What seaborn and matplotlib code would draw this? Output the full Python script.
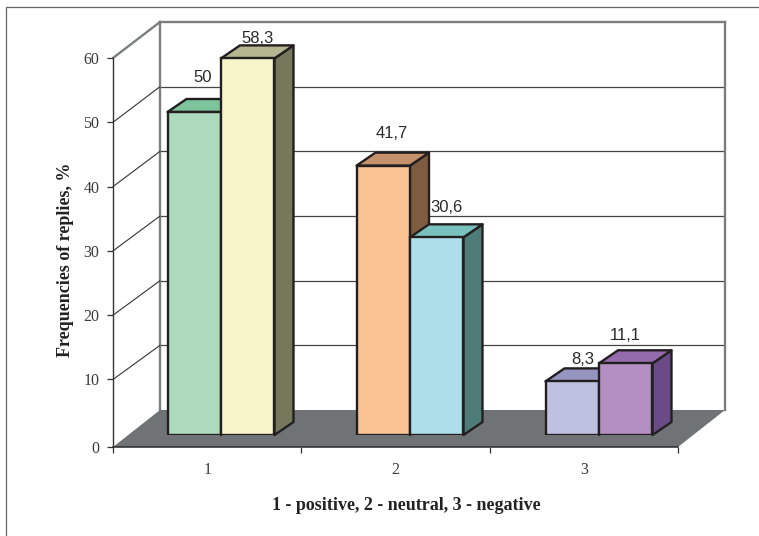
import matplotlib
matplotlib.use('Agg')
import matplotlib.pyplot as plt
import pandas as pd
import seaborn as sns
from matplotlib.lines import Line2D
from matplotlib.patches import Polygon
from matplotlib.transforms import Affine2D, IdentityTransform

# chart values
categories = ['1', '2', '3']
first_series = [50, 41.7, 8.3]
second_series = [58.3, 30.6, 11.1]
value_labels = [['50', '41,7', '8,3'], ['58,3', '30,6', '11,1']]
y_tick_labels = ['0', '10', '20', '30', '40', '50', '60']

# colours per bar: front, top, side
front_colors = [['#add9bc', '#fbc393', '#bec1e0'], ['#f8f5c8', '#addee9', '#b48fc1']]
top_colors = [['#7dc39c', '#c4916b', '#9595c0'], ['#b5b58f', '#78c1bc', '#946bac']]
side_colors = [['#5c8a6e', '#7f5c41', '#6f7096'], ['#76785c', '#4e7c78', '#6b4b87']]
# hand placed label offsets in pixels from the bar top centre
label_offsets = [[(8, 34), (8, 32), (10, 22)], [(10, 20), (10, 30), (0, 28)]]

W, H = 759, 536
DEPTH = (19, 13)
EDGE = '#231f20'
WALL = '#7b7e81'
TEXT = '#3a3a3a'


def add_plane(left, right, top, bottom, zorder):
    ax = fig.add_axes([left / W, 1 - bottom / H, (right - left) / W, (bottom - top) / H])
    ax.set_zorder(zorder)
    ax.patch.set_visible(False)
    return ax


def to_pixels(ax, x, y):
    return ax.transAxes.transform((x, y))


sns.set_theme(style='white')
plt.rcParams['font.family'] = ['Liberation Serif', 'DejaVu Serif']
fig = plt.figure(figsize=(W / 100, H / 100), dpi=100)

# page frame, open on the right and at the bottom
fig.add_artist(Line2D([6 / W, 6 / W, 1], [0, 1 - 7 / H, 1 - 7 / H], color='#666666', lw=0.9))

# back wall
back = add_plane(160, 725, 22, 410, 1)
back.set_xlim(0, 1)
back.set_ylim(0, 60)
back.set_xticks([])
back.set_yticks(range(10, 60, 10))
back.set_yticklabels([])
back.grid(axis='y', color='#444444', lw=0.9)
back.tick_params(length=0)
back.spines['bottom'].set_visible(False)
for name in ['left', 'top', 'right']:
    back.spines[name].set_color(WALL)
    back.spines[name].set_linewidth(1.7)

# front plane holds the axes, ticks and titles
front = add_plane(113, 678, 58, 447, 2.5)
front.set_xlim(-0.5, 2.5)
front.set_ylim(-0.5, 60)
front.set_yticks([-0.5, 10, 20, 30, 40, 50, 60])
front.set_yticklabels(y_tick_labels)
front.set_xticks([0, 1, 2])
front.set_xticklabels(categories)
front.set_xticks([-0.5, 0.5, 1.5, 2.5], minor=True)
front.tick_params(axis='y', left=True, length=4.3, width=0.9, color='#333333', labelcolor=TEXT, labelsize=11.5, pad=5.5)
front.tick_params(axis='x', which='major', length=0, labelcolor=TEXT, labelsize=11.5, pad=11)
front.tick_params(axis='x', which='minor', bottom=True, length=4.3, width=0.9, color='#333333')
for name in ['top', 'right']:
    front.spines[name].set_visible(False)
front.spines['left'].set_color('#333333')
front.spines['left'].set_linewidth(1.0)
front.spines['bottom'].set_color('#2a2a2a')
front.spines['bottom'].set_linewidth(1.1)
front.set_xlabel('1 - positive, 2 - neutral, 3 - negative', fontweight='bold', fontsize=13, color='#222222', va='center')
front.xaxis.set_label_coords((406 - 113) / 565, -(505 - 447) / 389)
front.set_ylabel('Frequencies of replies, %', fontweight='bold', fontsize=13, color='#222222', va='center')
front.yaxis.set_label_coords((65 - 113) / 565, (447 - 260) / 389)

# floor and the side wall lines joining both planes
corners = [to_pixels(front, 0, 0), to_pixels(front, 1, 0), to_pixels(back, 1, 0), to_pixels(back, 0, 0)]
fig.add_artist(Polygon(corners, closed=True, facecolor='#707375', edgecolor='none',
                       transform=IdentityTransform(), zorder=2))
for value in range(10, 70, 10):
    start = front.transData.transform((-0.5, value))
    end = back.transData.transform((0, value))
    fig.add_artist(Line2D([start[0], end[0]], [start[1], end[1]], transform=IdentityTransform(), zorder=2,
                          color=WALL if value == 60 else '#333333', lw=1.7 if value == 60 else 0.8))

# bars
df = pd.DataFrame({
    'category': categories * 2,
    'series': ['a'] * 3 + ['b'] * 3,
    'value': first_series + second_series,
})
bars = add_plane(126.5, 693.5, 47.4, 435, 3)
sns.barplot(data=df, x='category', y='value', hue='series', ax=bars, width=0.566, gap=0, legend=False,
            edgecolor=EDGE, linewidth=1.7)
bars.set_xlim(-0.5, 2.5)
bars.set_ylim(0, 60)
bars.axis('off')

shift = bars.transData + Affine2D().translate(*DEPTH)
order = 0
for c in range(len(categories)):
    for s, container in enumerate(bars.containers):
        bar = container[c]
        x0, x1 = bar.get_x(), bar.get_x() + bar.get_width()
        height = bar.get_height()
        bar.set_facecolor(front_colors[s][c])
        bar.set_zorder(order + 2)
        # the extruded faces reuse the bar's own corners
        side_pts = [(x1, 0), (x1, height)]
        side = Polygon(
            [bars.transData.transform(p) for p in side_pts] + [shift.transform(p) for p in side_pts[::-1]],
            closed=True, facecolor=side_colors[s][c], edgecolor=EDGE, lw=1.7, joinstyle='round',
            transform=IdentityTransform(), clip_on=False, zorder=order + 1)
        top_pts = [(x0, height), (x1, height)]
        top = Polygon(
            [bars.transData.transform(p) for p in top_pts] + [shift.transform(p) for p in top_pts[::-1]],
            closed=True, facecolor=top_colors[s][c], edgecolor=EDGE, lw=1.7, joinstyle='round',
            transform=IdentityTransform(), clip_on=False, zorder=order + 1)
        bars.add_artist(side)
        bars.add_artist(top)
        bars.annotate(value_labels[s][c], ((x0 + x1) / 2, height), xytext=label_offsets[s][c],
                      textcoords='offset pixels', ha='center', va='center', fontsize=12,
                      family='Liberation Sans', color='#2b2b2b', annotation_clip=False, zorder=100)
        order += 3

fig.savefig('out.png', dpi=100)
